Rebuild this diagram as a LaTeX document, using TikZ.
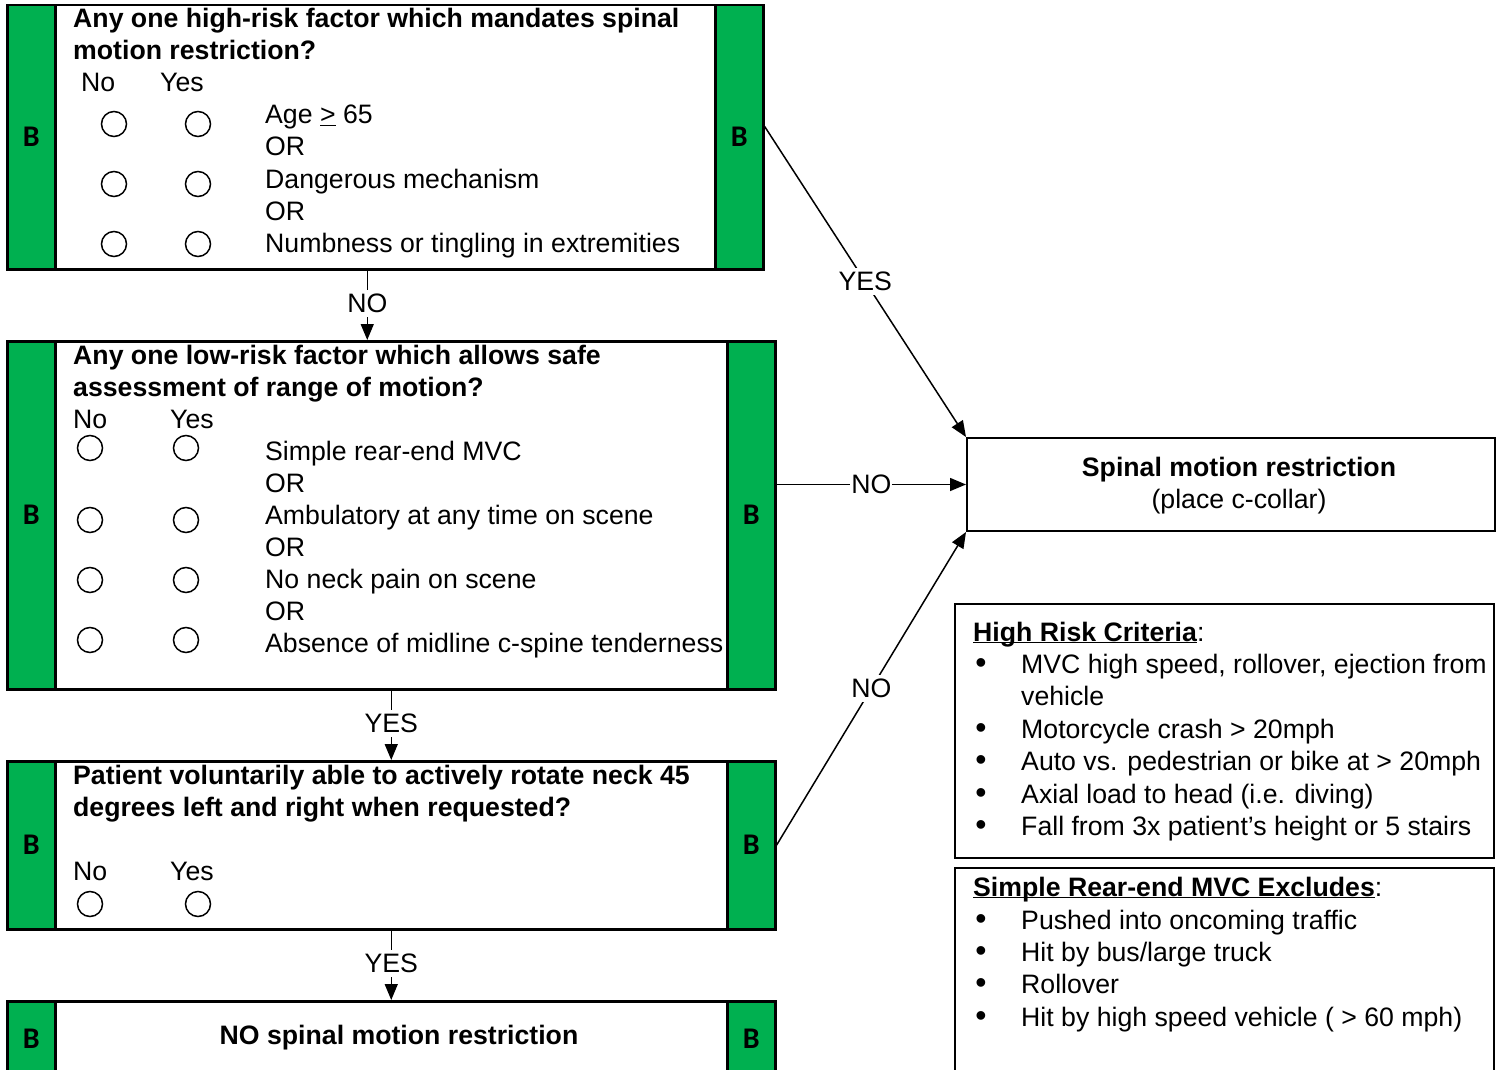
\documentclass[tikz,border=0pt]{standalone}
\usepackage{fontspec}
\setmainfont{Liberation Sans}
\newfontfamily\bfont{Carlito}
\usetikzlibrary{positioning,arrows.meta}
\definecolor{barGreen}{RGB}{0,176,80}
\tikzset{
  qbox/.style={draw, line width=2.5pt, inner sep=0pt, anchor=north west},
  bbar/.style={draw, fill=barGreen, line width=2.5pt, minimum width=48pt, inner sep=0pt,
    font=\bfont\bfseries\fontsize{30}{30}\selectfont},
  txt/.style={inner sep=0pt, anchor=base west, font=\fontsize{26.67}{32}\selectfont},
  ttl/.style={txt, font=\fontsize{26.67}{32}\selectfont\bfseries},
  dot/.style={txt, anchor=base, font=\fontsize{32}{32}\selectfont},
  radio/.style={draw, circle, line width=1.5pt, minimum size=25pt, inner sep=0pt},
  arr/.style={line width=1.5pt, -{Triangle[length=16pt,width=13pt]}},
  lbl/.style={fill=white, inner xsep=1pt, inner ysep=4pt, font=\fontsize{26.67}{32}\selectfont},
}
\begin{document}
\begin{tikzpicture}[x=1pt,y=-1pt]
\useasboundingbox (0,0) rectangle (1497,1070);
% question boxes
\node[qbox, minimum width=756pt, minimum height=264pt] (q1) at (6,4) {};
\node[qbox, minimum width=768pt, minimum height=348pt] (q2) at (6,340) {};
\node[qbox, minimum width=768pt, minimum height=168pt] (q3) at (6,760) {};
\node[qbox, minimum width=768pt, minimum height=76pt] (q4) at (6,1000) {};
\foreach \q/\h in {q1/264, q2/348, q3/168, q4/76} {
  \node[bbar, minimum height=\h pt, anchor=north west] (\q l) at (\q.north west) {B};
  \node[bbar, minimum height=\h pt, anchor=north east] (\q r) at (\q.north east) {B};
}
% right side boxes
\node[qbox, line width=2pt, minimum width=528pt, minimum height=93pt] (srm) at (966,437) {};
\node[qbox, line width=2pt, minimum width=539pt, minimum height=254pt] (hrc) at (954,603) {};
\node[qbox, line width=2pt, minimum width=539pt, minimum height=220pt] (srx) at (954,867) {};

% box 1
\node[ttl] (q1a) at (73,28) {Any one high-risk factor which mandates spinal};
\node[ttl] (q1b) at (73,60) {motion restriction?};
\node[txt] (q1no) at (81,92) {No};
\node[txt] (q1yes) at (160,92) {Yes};
\foreach \y [count=\i] in {124,184,244} {
  \node[radio] (q1n\i) at (114,\y) {};
  \node[radio] (q1y\i) at (198,\y) {};
}
\foreach \t [count=\i] in {Age \underline{\smash{>}} 65, OR, Dangerous mechanism, OR,
  Numbness or tingling in extremities}
  \node[txt] (q1t\i) at (265,{124+32*(\i-1)}) {\t};

% box 2
\node[ttl] (q2a) at (73,364) {Any one low-risk factor which allows safe};
\node[ttl] (q2b) at (73,396) {assessment of range of motion?};
\node[txt] (q2no) at (73,428) {No};
\node[txt] (q2yes) at (170,428) {Yes};
\foreach \y [count=\i] in {448,520,580,640} {
  \node[radio] (q2n\i) at (90,\y) {};
  \node[radio] (q2y\i) at (186,\y) {};
}
\foreach \t [count=\i] in {Simple rear-end MVC, OR, Ambulatory at any time on scene, OR,
  No neck pain on scene, OR, Absence of midline c-spine tenderness}
  \node[txt] (q2t\i) at (265,{460+32*(\i-1)}) {\t};

% box 3
\node[ttl] (q3a) at (73,784) {Patient voluntarily able to actively rotate neck 45};
\node[ttl] (q3b) at (73,816) {degrees left and right when requested?};
\node[txt] (q3no) at (73,880) {No};
\node[txt] (q3yes) at (170,880) {Yes};
\node[radio] (q3n) at (90,904) {};
\node[radio] (q3y) at (198,904) {};

% box 4
\node[ttl, anchor=base] (q4a) at (399,1044) {NO spinal motion restriction};

% spinal motion restriction
\node[ttl, anchor=base] (srma) at (1239,476) {Spinal motion restriction};
\node[txt, anchor=base] (srmb) at (1239,508) {(place c-collar)};

% criteria lists
\node[txt] (hrca) at (973,641) {\underline{\smash{\textbf{High Risk Criteria}}}:};
\foreach \t/\y [count=\i] in {{MVC high speed, rollover, ejection from}/673, vehicle/705,
  {Motorcycle crash > 20mph}/738, {Auto vs. pedestrian or bike at > 20mph}/770,
  {Axial load to head (i.e. diving)}/803, {Fall from 3x patient’s height or 5 stairs}/835}
  \node[txt] (hrc\i) at (1021,\y) {\t};
\foreach \y in {673,738,770,803,835}
  \node[dot] at (981,\y) {\textbullet};
\node[txt] (srxa) at (973,896) {\underline{\smash{\textbf{Simple Rear-end MVC Excludes}}}:};
\foreach \t/\y [count=\i] in {{Pushed into oncoming traffic}/929, {Hit by bus/large truck}/961,
  {Rollover}/993, {Hit by high speed vehicle ( > 60 mph)}/1026} {
  \node[txt] (srx\i) at (1021,\y) {\t};
  \node[dot] at (981,\y) {\textbullet};
}

% connectors
\draw[arr] ([xshift=-18pt]q1.south) coordinate (a1) -- (a1 |- q2.north) node[lbl, pos=0.47] {NO};
\draw[arr] (q2.south) -- (q3.north) node[lbl, pos=0.47] {YES};
\draw[arr] (q3.south) -- (q4.north) node[lbl, pos=0.47] {YES};
\draw[arr] ([yshift=11pt]q1.east) -- (srm.north west) node[lbl, midway] {YES};
\draw[arr] (srm.west -| q2.east) -- (srm.west) node[lbl, midway] {NO};
\draw[arr] (q3.east) -- (srm.south west) node[lbl, midway] {NO};
\end{tikzpicture}
\end{document}
